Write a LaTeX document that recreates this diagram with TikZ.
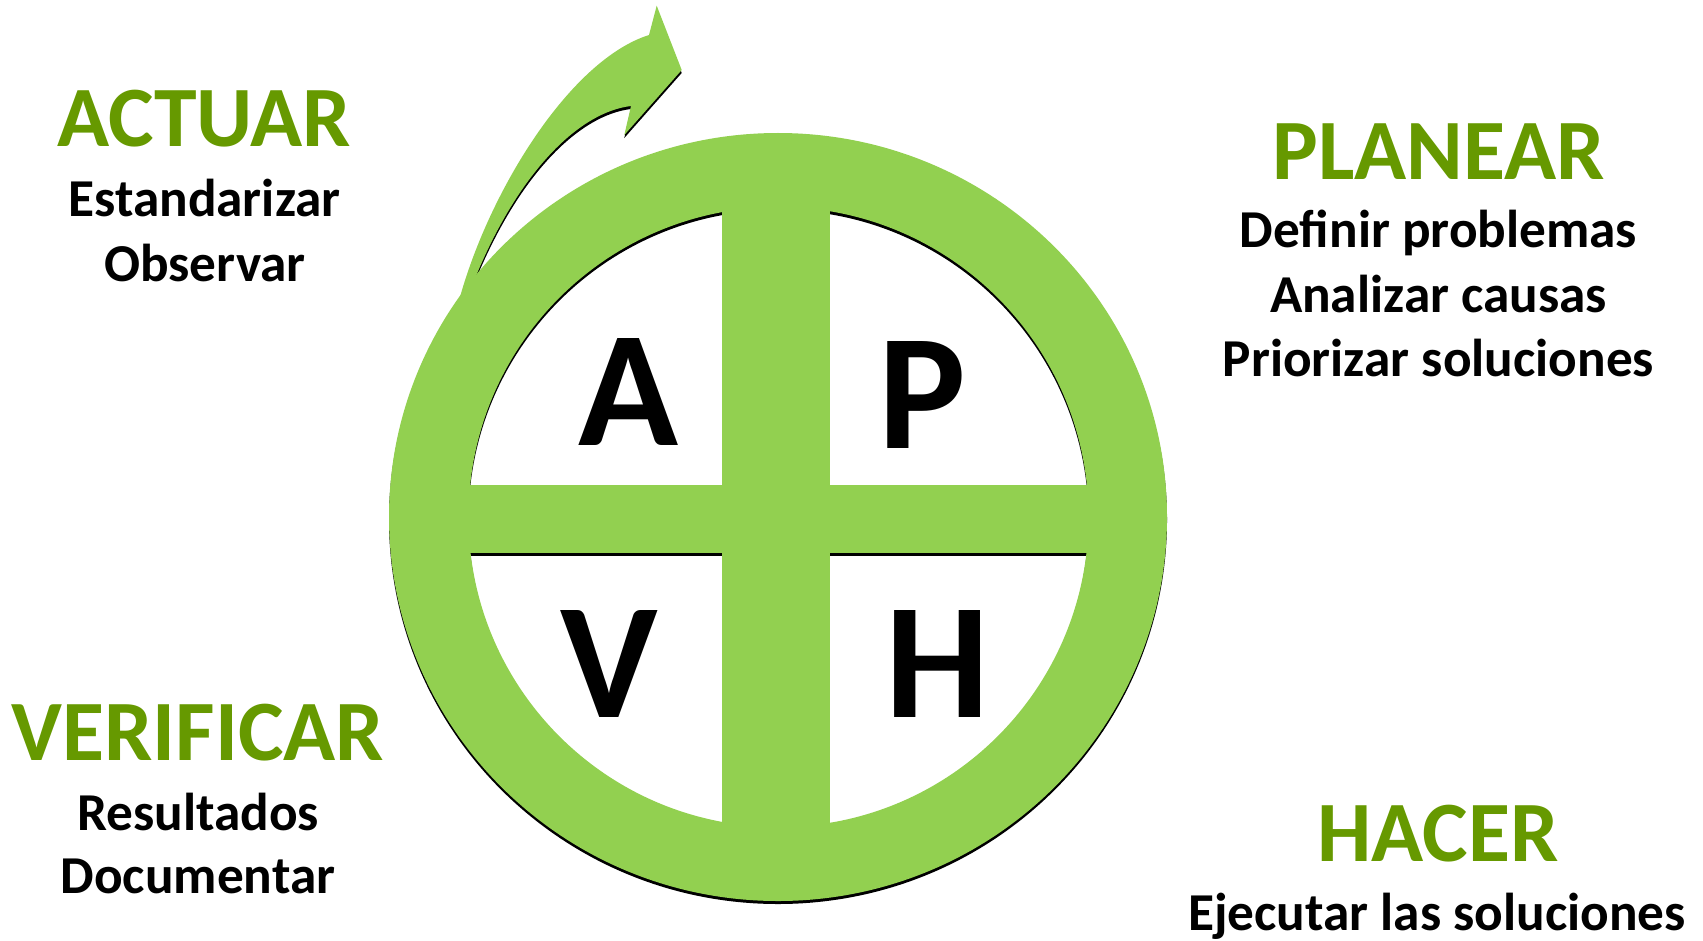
\documentclass[tikz,border=0pt]{standalone}
\usepackage{fontspec}
\setmainfont{Carlito}
\definecolor{ringgreen}{RGB}{146,208,80}
\definecolor{headgreen}{RGB}{102,153,0}
\newcommand\pdcashapes[1]{%
  \fill[#1,even odd rule] (778,517) ellipse [x radius=389bp, y radius=384bp]
        (778.5,517) circle [radius=310bp];
  \fill[#1] (722,190) rectangle (830,850);
  \fill[#1] (440,485) rectangle (1115,553);
  \fill[#1] (460,297) .. controls (490,190) and (570,60) .. (649,35)
        -- (656.7,5.7) -- (681.7,70) -- (624.3,135) -- (631,106)
        .. controls (580,112) and (520,170) .. (476,276)
        -- (480,310) -- (465,315) -- cycle;
}
\begin{document}
\begin{tikzpicture}[x=1bp,y=-1bp,
  head/.style={font=\fontsize{86bp}{86bp}\selectfont\bfseries, text=headgreen, anchor=base, inner sep=0},
  body/.style={font=\fontsize{53.3bp}{53.3bp}\selectfont\bfseries, anchor=base, inner sep=0},
  big/.style={font=\fontsize{165bp}{165bp}\selectfont\bfseries, anchor=base, inner sep=0}]
\useasboundingbox (0,0) rectangle (1703,940);
\begin{scope}[yshift=-3bp]
  \pdcashapes{black}
\end{scope}
\pdcashapes{ringgreen}

\node[big] (A) at (628,445) {A};
\node[big] (P) at (922,448) {P};
\node[big] (V) at (609,717) {V};
\node[big] (H) at (938,717) {H};

\node[head] (actuar) at (204,146.7) {ACTUAR};
\node[body] (act1) at (204.5,216.7) {Estandarizar};
\node[body] (act2) at (205,281) {Observar};

\node[head] (planear) at (1438.7,179) {PLANEAR};
\node[body] (pl1) at (1438.5,247.7) {Definir problemas};
\node[body] (pl2) at (1438.5,312.7) {Analizar causas};
\node[body] (pl3) at (1438.5,376.7) {Priorizar soluciones};

\node[head] (verificar) at (198,760) {VERIFICAR};
\node[body] (ver1) at (198,830) {Resultados};
\node[body] (ver2) at (198,893.3) {Documentar};

\node[head] (hacer) at (1438,861) {HACER};
\node[body] (hac1) at (1437,930) {Ejecutar las soluciones};
\end{tikzpicture}
\end{document}
